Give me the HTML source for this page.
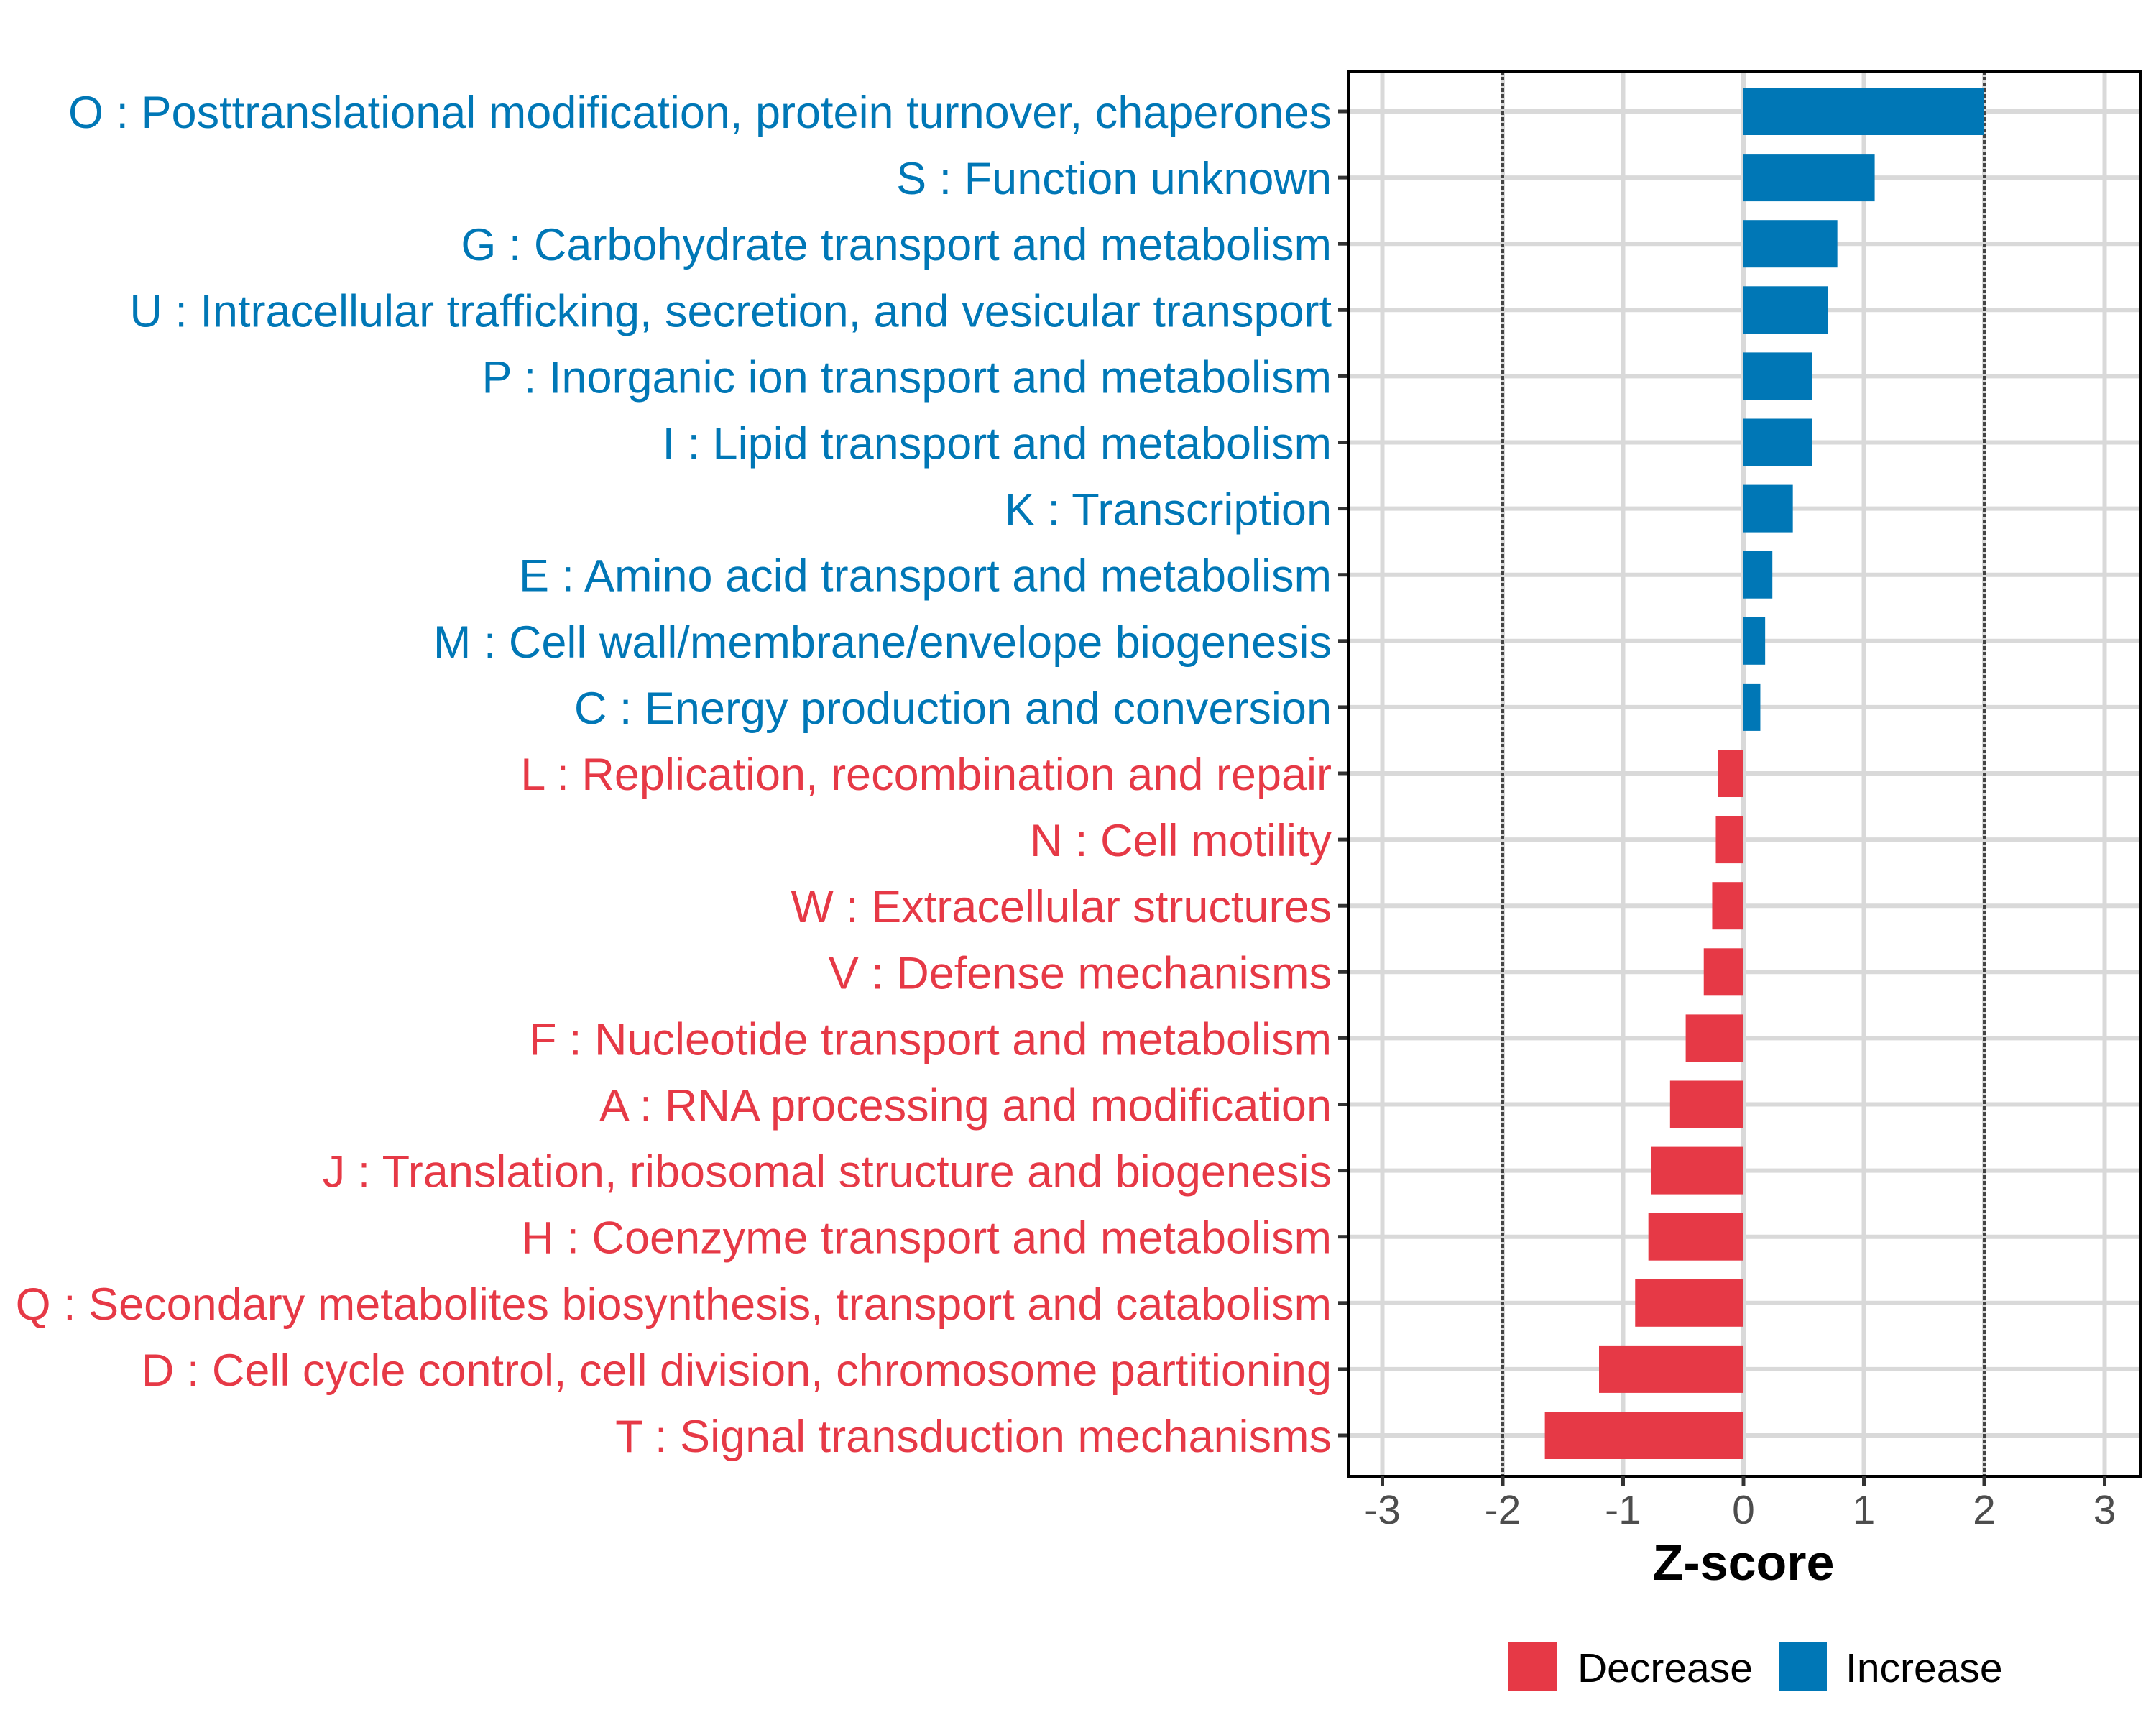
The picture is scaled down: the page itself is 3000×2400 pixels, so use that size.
<!DOCTYPE html>
<html><head><meta charset="utf-8"><style>
html,body{margin:0;padding:0;background:#fff;}
svg{display:block;font-family:"Liberation Sans",sans-serif;}
</style></head><body>
<svg id="chart" width="3000" height="2400" viewBox="0 0 3000 2400" xmlns="http://www.w3.org/2000/svg">
<rect width="3000" height="2400" fill="#fff"/>
<g id="grid"></g>
<g id="bars"></g>
<g id="ylabels"></g>
<g id="xaxis"></g>
<text x="2426" y="2198" text-anchor="middle" font-size="70" font-weight="bold" fill="#000">Z-score</text>
<g>
<rect x="2099" y="2285" width="67" height="67" fill="#E63946"/>
<text x="2195" y="2340" font-size="57" fill="#000">Decrease</text>
<rect x="2475" y="2285" width="67" height="67" fill="#0077B6"/>
<text x="2568" y="2340" font-size="57" fill="#000">Increase</text>
</g>
</svg>
<script>
const categories = ["O : Posttranslational modification, protein turnover, chaperones","S : Function unknown","G : Carbohydrate transport and metabolism","U : Intracellular trafficking, secretion, and vesicular transport","P : Inorganic ion transport and metabolism","I : Lipid transport and metabolism","K : Transcription","E : Amino acid transport and metabolism","M : Cell wall/membrane/envelope biogenesis","C : Energy production and conversion","L : Replication, recombination and repair","N : Cell motility","W : Extracellular structures","V : Defense mechanisms","F : Nucleotide transport and metabolism","A : RNA processing and modification","J : Translation, ribosomal structure and biogenesis","H : Coenzyme transport and metabolism","Q : Secondary metabolites biosynthesis, transport and catabolism","D : Cell cycle control, cell division, chromosome partitioning","T : Signal transduction mechanisms"];
const zscores = [2.0,1.09,0.78,0.70,0.57,0.57,0.41,0.24,0.18,0.14,-0.21,-0.23,-0.26,-0.33,-0.48,-0.61,-0.77,-0.79,-0.90,-1.20,-1.65];
const xTicks = [-3,-2,-1,0,1,2,3];
const xTickLabels = ["-3","-2","-1","0","1","2","3"];
const thresholds = [-2,2];

const NS="http://www.w3.org/2000/svg";
const L=1876,R=2978,T=99,B=2054;
const x0=2426, unit=167.5;
function xs(v){return x0+v*unit;}
function ys(i){return 155+i*92.1;}
function mk(tag,attrs,parent){const e=document.createElementNS(NS,tag);for(const k in attrs)e.setAttribute(k,attrs[k]);parent.appendChild(e);return e;}
const grid=document.getElementById('grid'),bars=document.getElementById('bars'),yl=document.getElementById('ylabels'),xa=document.getElementById('xaxis');
xTicks.forEach(t=>{const l=mk('line',{x1:xs(t),x2:xs(t),y1:T,y2:B,stroke:'#d9d9d9','stroke-width':6},grid);

});
categories.forEach((c,i)=>{const l=mk('line',{x1:L,x2:R,y1:ys(i),y2:ys(i),stroke:'#d9d9d9','stroke-width':6},grid);

});
thresholds.forEach(t=>{const l=mk('line',{x1:xs(t),x2:xs(t),y1:T,y2:B,stroke:'#444','stroke-width':4,'stroke-dasharray':'5 3'},grid);

});
categories.forEach((c,i)=>{const v=zscores[i];const col=v>=0?'#0077B6':'#E63946';
const r=mk('rect',{x:Math.min(xs(0),xs(v)),y:ys(i)-33,width:Math.abs(xs(v)-xs(0)),height:66,fill:col},bars);


const tk=mk('line',{x1:L-14,x2:L,y1:ys(i),y2:ys(i),stroke:'#333','stroke-width':5},yl);


const tx=mk('text',{x:1853,y:ys(i)+23,'text-anchor':'end','font-size':63,fill:col},yl);
tx.textContent=c;

});
const border=mk('rect',{x:L,y:T,width:R-L,height:B-T,fill:'none',stroke:'#000','stroke-width':4},xa);


xTicks.forEach((t,i)=>{const tk=mk('line',{x1:xs(t),x2:xs(t),y1:B,y2:B+14,stroke:'#333','stroke-width':5},xa);


const tx=mk('text',{x:xs(t),y:2120,'text-anchor':'middle','font-size':57,fill:'#4d4d4d'},xa);
tx.textContent=xTickLabels[i];

});
</script>
</body></html>
